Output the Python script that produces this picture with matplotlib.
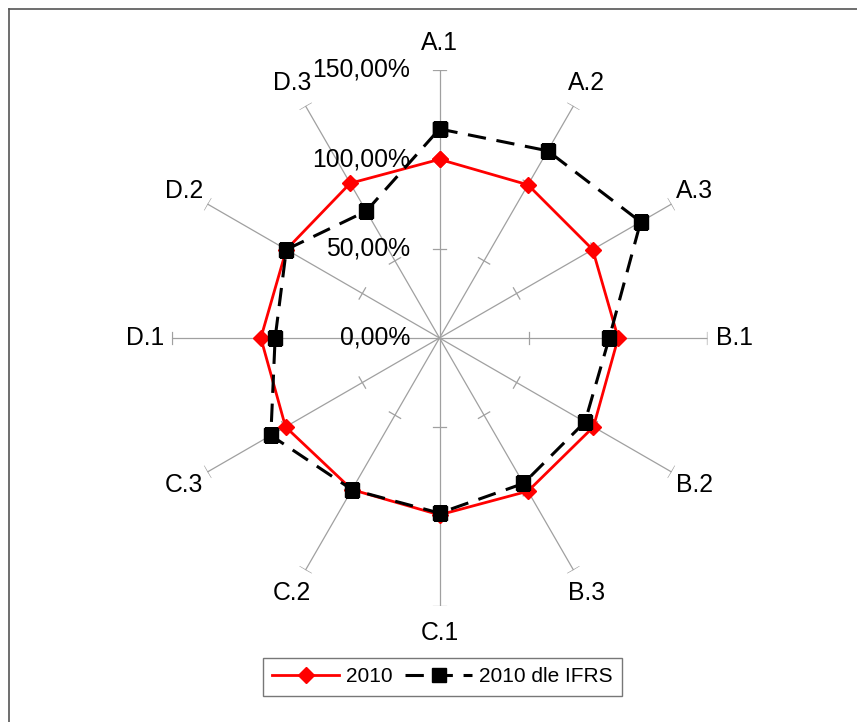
import numpy as np
import matplotlib.pyplot as plt
from matplotlib.lines import Line2D
from matplotlib.transforms import offset_copy

categories = ["A.1", "A.2", "A.3", "B.1", "B.2", "B.3",
              "C.1", "C.2", "C.3", "D.1", "D.2", "D.3"]
vals_2010 = [100, 99, 99, 100, 99.5, 99, 99, 98, 99.5, 100, 99, 100]
vals_ifrs = [117, 121, 130, 95, 94, 94, 98, 98, 109, 92, 99, 82]
r_ticks = [0, 50, 100, 150]
r_labels = ["0,00%", "50,00%", "100,00%", "150,00%"]

plt.rcParams['font.family'] = ['Liberation Sans', 'DejaVu Sans']
FS = 17.8

W, H = 857, 722
fig = plt.figure(figsize=(W / 100, H / 100), dpi=100)
fig.patch.set_facecolor('white')

# outer frame (only top and left visible in the crop)
fig.add_artist(Line2D([9 / W, 1.0], [1 - 9 / H, 1 - 9 / H], color='#555555', lw=1.2))
fig.add_artist(Line2D([9 / W, 9 / W], [0, 1 - 9 / H], color='#555555', lw=1.2))

cx, cy, R = 439.5, 338, 268
ax = fig.add_axes([(cx - R) / W, (H - cy - R) / H, 2 * R / W, 2 * R / H], projection='polar')
ax.set_theta_zero_location('N')
ax.set_theta_direction(-1)
ax.set_ylim(0, 150)
ax.grid(False)
ax.spines['polar'].set_visible(False)
ax.set_xticks([])
ax.set_yticks([])
ax.patch.set_alpha(0)

n = len(categories)
theta = np.arange(n) * 2 * np.pi / n

# spokes with small cross ticks
for t in theta:
    ax.plot([t, t], [0, 150], color='#a0a0a0', lw=0.9, zorder=1)
    for rv in r_ticks[1:]:
        half = 6.5 / (rv / 150 * R)
        ax.plot([t - half, t + half], [rv, rv], color='#a0a0a0', lw=0.9, zorder=1)

th_closed = np.append(theta, theta[0])
ax.plot(th_closed, vals_2010 + vals_2010[:1], color='#ff0000', lw=2.0,
        marker='D', ms=8, mfc='#ff0000', mec='#ff0000', zorder=3, label='2010')
ax.plot(th_closed, vals_ifrs + vals_ifrs[:1], color='black', lw=2.2,
        dashes=(6, 3.5), marker='s', ms=10, mfc='black', mec='black', zorder=4,
        label='2010 dle IFRS')

for t, c in zip(theta, categories):
    ax.text(t, 165, c, ha='center', va='center', fontsize=FS)

trans = offset_copy(ax.transData, fig=fig, x=-29, y=0, units='dots')
for rv, lab in zip(r_ticks, r_labels):
    ax.text(0, rv, lab, transform=trans, ha='right', va='center', fontsize=FS)

leg = fig.legend(loc='center', bbox_to_anchor=(442.5 / W, 1 - 677 / H), ncol=2,
                 fontsize=15, frameon=True, fancybox=False, handlelength=3.2,
                 columnspacing=0.6, handletextpad=0.34, borderpad=0.45,
                 borderaxespad=0)
leg.get_frame().set_edgecolor('#555555')
leg.get_frame().set_linewidth(1.0)

fig.savefig('out.png', dpi=100, facecolor='white')
